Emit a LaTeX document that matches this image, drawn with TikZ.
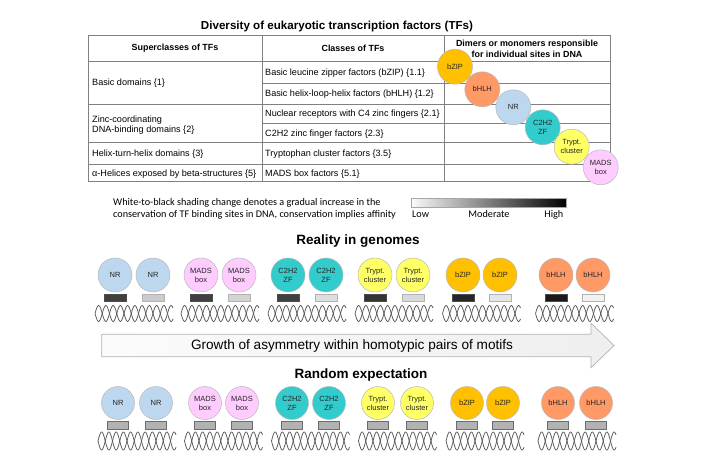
\documentclass[tikz,border=0pt]{standalone}
\usepackage{fontspec}
\setmainfont{Liberation Sans}
\newfontfamily\legendfont{Carlito}
\definecolor{nrblue}{HTML}{BDD7EE}
\definecolor{madspink}{HTML}{FFCCFF}
\definecolor{zfteal}{HTML}{33CCCC}
\definecolor{trpyellow}{HTML}{FFFF66}
\definecolor{bzipgold}{HTML}{FFC000}
\definecolor{bhlhorange}{HTML}{FF9966}
\definecolor{tabline}{HTML}{808080}
\newcommand\dnahelix[3]{% x-center, y-center, amplitude
  \pgfmathsetmacro\hxs{#1-39}
  \pgfmathsetmacro\hxe{#1+39}
  \draw[helixline] plot[domain=\hxs:\hxe,samples=140] (\x,{#2+#3*sin(24.83*(\x-\hxs))});
  \draw[helixline] plot[domain=\hxs:\hxe,samples=140] (\x,{#2-#3*sin(24.83*(\x-\hxs))});
}
\begin{document}
\begin{tikzpicture}[x=1pt,y=-1pt,
  tf/.style={circle, draw=gray!55, line width=0.5pt, minimum size=34pt, inner sep=0pt,
    align=center, font=\fontsize{7.5}{9}\selectfont, text=black!85},
  site/.style={draw, minimum width=22pt, minimum height=7.5pt, inner sep=0pt, line width=0.6pt},
  cell/.style={anchor=base west, font=\fontsize{9.1}{10.7}\selectfont, inner sep=0pt, align=left},
  head/.style={font=\bfseries\fontsize{8.9}{10.7}\selectfont, inner sep=0pt, align=center},
  tabrule/.style={draw=tabline, line width=0.9pt},
  helixline/.style={draw=gray!70!black, line width=0.75pt},
  bigtitle/.style={font=\bfseries\fontsize{13.5}{15}\selectfont, anchor=base, inner sep=0pt},
  legtext/.style={font=\legendfont\fontsize{10.2}{12}\selectfont, inner sep=0pt}]
\useasboundingbox (0,0) rectangle (717,470);
\fill[white] (0,0) rectangle (717,470);

% ---------- title and table ----------
\node[anchor=base, font=\bfseries\fontsize{11.6}{13}\selectfont, inner sep=0pt] (title) at (337,29.3) {Diversity of eukaryotic transcription factors (TFs)};

\draw[tabrule] (88,35) rectangle (610,181.7);
\draw[tabrule] (88,61) -- (610,61);
\draw[tabrule] (262,83.3) -- (610,83.3);
\draw[tabrule] (88,104.3) -- (610,104.3);
\draw[tabrule] (262,123.3) -- (610,123.3);
\draw[tabrule] (88,142.7) -- (610,142.7);
\draw[tabrule] (88,164.3) -- (610,164.3);
\draw[tabrule] (262,35) -- (262,181.7);
\draw[tabrule] (444,35) -- (444,181.7);

\node[head] (h1) at (175,48) {Superclasses of TFs};
\node[head] (h2) at (353,48) {Classes of TFs};
\node[head] (h3) at (527,48.5) {Dimers or monomers responsible\\for individual sites in DNA};

\node[cell] (s1) at (92,86) {Basic domains \{1\}};
\node[cell] (s2) at (92,133) {Zinc-coordinating\\DNA-binding domains \{2\}};
\node[cell] (s3) at (92,156.7) {Helix-turn-helix domains \{3\}};
\node[cell] (s5) at (92,176.2) {α-Helices exposed by beta-structures \{5\}};

\node[cell] (c11) at (265,75.4) {Basic leucine zipper factors (bZIP) \{1.1\}};
\node[cell] (c12) at (265,97) {Basic helix-loop-helix factors (bHLH) \{1.2\}};
\node[cell] (c21) at (265,117) {Nuclear receptors with C4 zinc fingers \{2.1\}};
\node[cell] (c23) at (265,136.2) {C2H2 zinc finger factors \{2.3\}};
\node[cell] (c35) at (265,156.7) {Tryptophan cluster factors \{3.5\}};
\node[cell] (c51) at (265,176.2) {MADS box factors \{5.1\}};

\node[tf, fill=bzipgold, minimum size=35pt] (d1) at (455,66.7) {bZIP};
\node[tf, fill=bhlhorange, minimum size=35pt] (d2) at (482.3,89.3) {bHLH};
\node[tf, fill=nrblue, minimum size=35pt] (d3) at (513.3,107.3) {NR};
\node[tf, fill=zfteal, minimum size=35pt] (d4) at (542.7,127.3) {C2H2\\ZF};
\node[tf, fill=trpyellow, minimum size=35pt] (d5) at (571.7,146.7) {Trypt.\\cluster};
\node[tf, fill=madspink, minimum size=35pt] (d6) at (600.7,167.3) {MADS\\box};

% ---------- legend ----------
\node[legtext, anchor=base west, align=left] (legend) at (113,217.5) {White-to-black shading change denotes a gradual increase in the\\conservation of TF binding sites in DNA, conservation implies affinity};
\node[draw=gray!70, line width=0.5pt, left color=gray!4, right color=black, minimum width=155pt, minimum height=9pt, inner sep=0pt] (bar) at (489.2,202.8) {};
\node[legtext, anchor=base west] (low) at (412,217.5) {Low};
\node[legtext, anchor=base] (mod) at (489,217.5) {Moderate};
\node[legtext, anchor=base east] (high) at (563.5,217.5) {High};

% ---------- reality in genomes ----------
\node[bigtitle] (reality) at (358,244) {Reality in genomes};

\foreach \i/\lab/\col/\xa/\xb/\dk/\lt in {
  1/NR/nrblue/115/153/404040/CCCCCC,
  2/{MADS\\box}/madspink/201/239/404040/D4D4D4,
  3/{C2H2\\ZF}/zfteal/288/326/404040/DEDEDE,
  4/{Trypt.\\cluster}/trpyellow/375/413/333333/D9D9D9,
  5/bZIP/bzipgold/463/500/262626/E6E6E6,
  6/bHLH/bhlhorange/556/593/1A1A1A/F2F2F2} {
  \definecolor{dkfill}{HTML}{\dk}
  \definecolor{ltfill}{HTML}{\lt}
  \dnahelix{(\xa+\xb)/2}{313.5}{8}
  \node[site, fill=dkfill, draw=black!70] (ra\i) at (\xa,298) {};
  \node[site, fill=ltfill, draw=gray!60] (rb\i) at (\xb,298) {};
  \node[tf, fill=\col] (ta\i) at (\xa,275) {\lab};
  \node[tf, fill=\col] (tb\i) at (\xb,275) {\lab};
}

% ---------- arrow ----------
\draw[draw=gray!60, line width=0.7pt, left color=gray!3, right color=gray!13]
  (101.7,334.3) -- (591,334.3) -- (591,323.3) -- (614,345.5) -- (591,367.7)
  -- (591,356.7) -- (101.7,356.7) -- cycle;
\node[font=\fontsize{13.6}{15}\selectfont, inner sep=0pt] (growth) at (352,346) {Growth of asymmetry within homotypic pairs of motifs};

% ---------- random expectation ----------
\node[bigtitle] (random) at (361,378.3) {Random expectation};

\foreach \i/\lab/\col/\xa/\xb in {
  1/NR/nrblue/118/156,
  2/{MADS\\box}/madspink/205/242,
  3/{C2H2\\ZF}/zfteal/292/329,
  4/{Trypt.\\cluster}/trpyellow/378/417,
  5/bZIP/bzipgold/467/503,
  6/bHLH/bhlhorange/558/596} {
  \dnahelix{(\xa+\xb)/2}{441}{9}
  \node[site, fill=gray!60, draw=gray!85!black, minimum width=20.5pt, minimum height=8.3pt] (qa\i) at (\xa,425) {};
  \node[site, fill=gray!60, draw=gray!85!black, minimum width=20.5pt, minimum height=8.3pt] (qb\i) at (\xb,425) {};
  \node[tf, fill=\col, minimum size=33pt] (pa\i) at (\xa,403) {\lab};
  \node[tf, fill=\col, minimum size=33pt] (pb\i) at (\xb,403) {\lab};
}
\end{tikzpicture}
\end{document}
